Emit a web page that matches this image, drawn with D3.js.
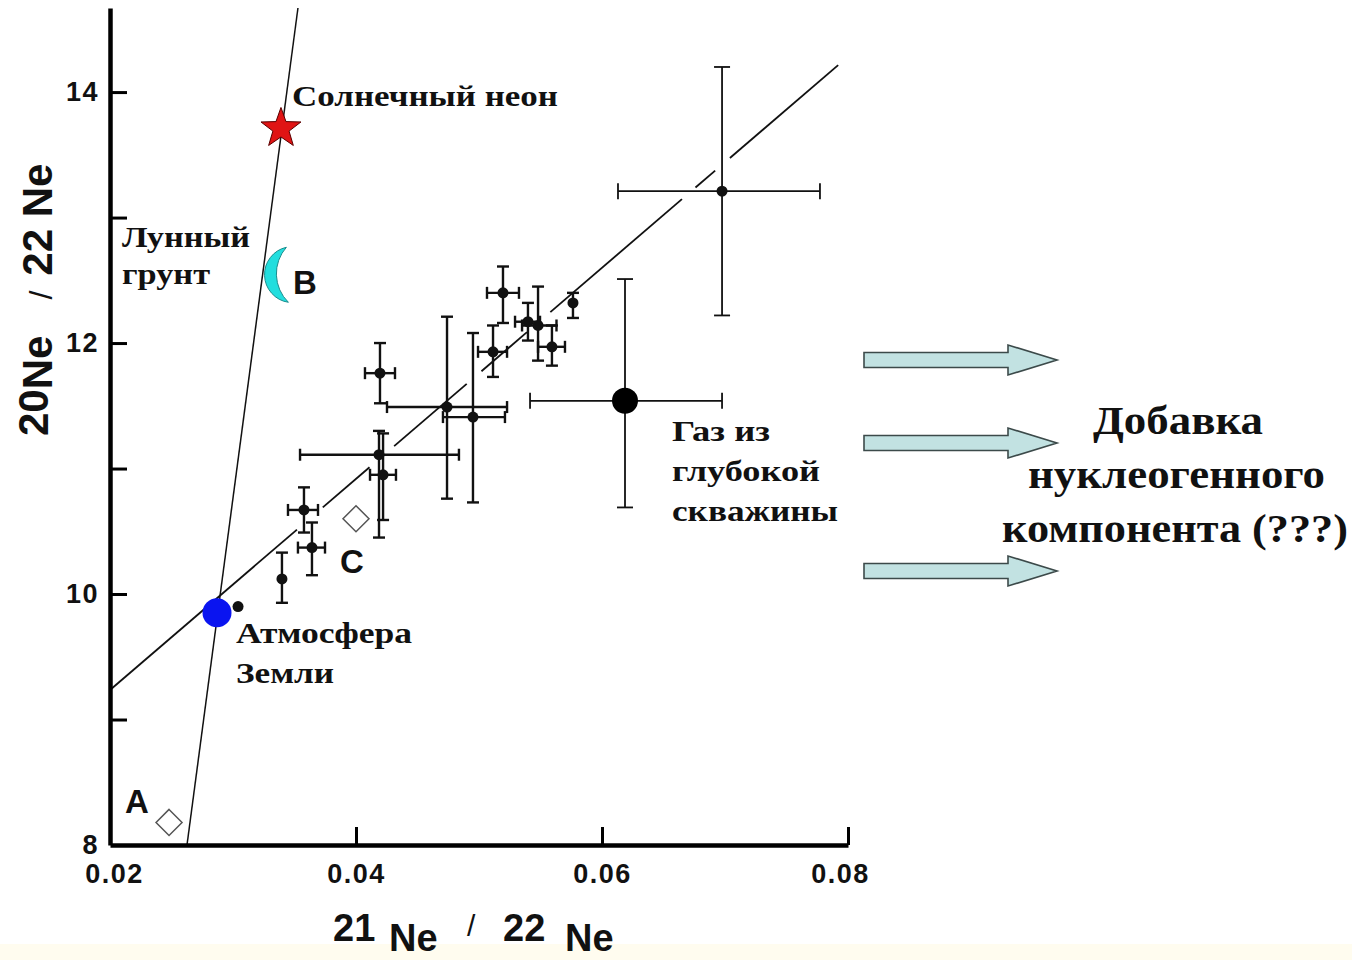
<!DOCTYPE html>
<html><head><meta charset="utf-8">
<script src="https://cdn.jsdelivr.net/npm/d3@7"></script>
<style>body{margin:0;background:#fff} svg{display:block}</style>
</head><body><svg id="c" width="1352" height="960"></svg>
<script>
// ---------- data ----------
const xDomain = [0.02, 0.08];
const yDomain = [8, 14.67];
const xTickValues = [0.02, 0.04, 0.06, 0.08];
const xTickLabels = ["0.02", "0.04", "0.06", "0.08"];
const yTickValues = [8, 9, 10, 11, 12, 13, 14];
const yTickLabels = ["8", "", "10", "", "12", "", "14"];

// samples (21Ne/22Ne, 20Ne/22Ne) with error ranges (NaN = none)
const sampleX   = [0.03398, 0.03577, 0.03642, 0.04195, 0.04187, 0.04220, 0.04740, 0.04951, 0.05114, 0.05195, 0.05398, 0.05480, 0.05593, 0.05764, 0.06976, 0.03041];
const sampleY   = [10.12, 10.67, 10.37, 11.76, 11.11, 10.95, 11.49, 11.41, 11.93, 12.40, 12.17, 12.14, 11.97, 12.32, 13.21, 9.90];
const sampleXLo = [NaN, 0.03447, 0.03528, 0.04073, 0.03545, 0.04114, 0.04252, 0.04707, 0.04992, 0.05065, 0.05293, 0.05350, 0.05480, NaN, 0.06130, NaN];
const sampleXHi = [NaN, 0.03691, 0.03748, 0.04317, 0.04837, 0.04325, 0.05228, 0.05211, 0.05228, 0.05325, 0.05496, 0.05630, 0.05699, NaN, 0.07772, NaN];
const sampleYLo = [9.93, 10.49, 10.15, 11.52, 10.45, 10.59, 10.76, 10.73, 11.73, 12.16, 12.02, 11.86, 11.82, 12.20, 12.22, NaN];
const sampleYHi = [10.33, 10.85, 10.57, 12.00, 11.30, 11.28, 12.21, 12.08, 12.14, 12.61, 12.32, 12.45, 12.14, 12.40, 14.20, NaN];

// deep well gas
const wellX = [0.06187], wellY = [11.54];
const wellXLo = [0.05415], wellXHi = [0.06976], wellYLo = [10.69], wellYHi = [12.51];

// reference components
const airX = 0.0287, airY = 9.85;
const solarX = 0.0339, solarY = 13.71;
const lunarX = 0.0332, lunarY = 12.54;
const diamondNames = ["A", "C"];
const diamondX = [0.0248, 0.0400];
const diamondY = [8.18, 10.60];

// lines
const solarLineX = [0.02626, 0.03528], solarLineY = [8, 14.67];
const fracLineX = [0.02, 0.0792], fracLineY = [9.235, 14.215];
const fracGaps = [[0.0352, 0.0373], [0.0411, 0.0431], [0.0490, 0.0502], [0.0539, 0.0558], [0.0665, 0.0676], [0.0692, 0.0704]];

// ---------- drawing ----------
const svg = d3.select("#c");
svg.append("rect").attr("x", 0).attr("y", 0).attr("width", 1352).attr("height", 960).attr("fill", "#fff");
svg.append("rect").attr("x", 0).attr("y", 944).attr("width", 1352).attr("height", 16).attr("fill", "#fffcef");

const x = d3.scaleLinear().domain(xDomain).range([110, 848]);
const y = d3.scaleLinear().domain(yDomain).range([845, 8]);

const SANS = "'Liberation Sans', Arial, sans-serif";
const SERIF = "'Liberation Serif', 'Times New Roman', serif";

// lines
const g = svg.append("g");
g.append("line")
  .attr("x1", x(solarLineX[0])).attr("y1", y(solarLineY[0]))
  .attr("x2", x(solarLineX[1])).attr("y2", y(solarLineY[1]))
  .attr("stroke", "#111").attr("stroke-width", 1.5);

const slope = (fracLineY[1] - fracLineY[0]) / (fracLineX[1] - fracLineX[0]);
const fy = xv => fracLineY[0] + slope * (xv - fracLineX[0]);
let segs = [], start = fracLineX[0];
fracGaps.forEach(([a, b]) => { segs.push([start, a]); start = b; });
segs.push([start, fracLineX[1]]);
g.selectAll(".frac").data(segs).join("line")
  .attr("x1", d => x(d[0])).attr("y1", d => y(fy(d[0])))
  .attr("x2", d => x(d[1])).attr("y2", d => y(fy(d[1])))
  .attr("stroke", "#111").attr("stroke-width", 1.8);

// error bars
function errorBars(xs, ys, xlo, xhi, ylo, yhi, cap, sw) {
  const eg = svg.append("g").attr("stroke", "#111").attr("stroke-width", sw).attr("fill", "none");
  xs.forEach((xv, i) => {
    if (!isNaN(xlo[i])) {
      eg.append("line").attr("x1", x(xlo[i])).attr("x2", x(xhi[i])).attr("y1", y(ys[i])).attr("y2", y(ys[i]));
      [xlo[i], xhi[i]].forEach(v => eg.append("line").attr("x1", x(v)).attr("x2", x(v)).attr("y1", y(ys[i]) - cap).attr("y2", y(ys[i]) + cap));
    }
    if (!isNaN(ylo[i])) {
      eg.append("line").attr("x1", x(xv)).attr("x2", x(xv)).attr("y1", y(ylo[i])).attr("y2", y(yhi[i]));
      [ylo[i], yhi[i]].forEach(v => eg.append("line").attr("x1", x(xv) - cap).attr("x2", x(xv) + cap).attr("y1", y(v)).attr("y2", y(v)));
    }
  });
}
errorBars(sampleX.slice(0, 14), sampleY.slice(0, 14), sampleXLo, sampleXHi, sampleYLo, sampleYHi, 6, 2.4);
errorBars([sampleX[14]], [sampleY[14]], [sampleXLo[14]], [sampleXHi[14]], [sampleYLo[14]], [sampleYHi[14]], 8, 1.8);
errorBars(wellX, wellY, wellXLo, wellXHi, wellYLo, wellYHi, 8, 1.8);

// sample points
svg.append("g").selectAll("circle").data(sampleX).join("circle")
  .attr("cx", d => x(d)).attr("cy", (d, i) => y(sampleY[i])).attr("r", 5.5).attr("fill", "#111");
svg.append("g").selectAll("circle").data(wellX).join("circle")
  .attr("cx", d => x(d)).attr("cy", (d, i) => y(wellY[i])).attr("r", 13).attr("fill", "#000");

// air
svg.append("circle").attr("cx", x(airX)).attr("cy", y(airY)).attr("r", 14.5).attr("fill", "#0a14f0");

// solar star
function starPath(cx, cy, R, r) {
  const pts = [];
  for (let k = 0; k < 10; k++) {
    const a = -Math.PI / 2 + k * Math.PI / 5, rr = k % 2 ? r : R;
    pts.push([cx + rr * Math.cos(a), cy + rr * Math.sin(a)]);
  }
  return "M" + pts.map(p => p.join(",")).join("L") + "Z";
}
svg.append("path").attr("d", starPath(x(solarX), y(solarY), 21, 8.5))
  .attr("fill", "#e01414").attr("stroke", "#5a0000").attr("stroke-width", 1);

// lunar crescent
const lx = x(lunarX), ly = y(lunarY);
svg.append("path")
  .attr("d", `M${lx + 14},${ly - 28} A28,28 0 0,0 ${lx + 16},${ly + 27} A40,40 0 0,1 ${lx + 14},${ly - 28} Z`)
  .attr("fill", "#22dede").attr("stroke", "#1a8c8c").attr("stroke-width", 1);

// diamonds
svg.append("g").selectAll("path").data(diamondX).join("path")
  .attr("d", (d, i) => { const cx = x(d), cy = y(diamondY[i]), s = 13; return `M${cx},${cy - s}L${cx + s},${cy}L${cx},${cy + s}L${cx - s},${cy}Z`; })
  .attr("fill", "#fff").attr("stroke", "#555").attr("stroke-width", 1.5);

// axes
const yAxis = d3.axisLeft(y).tickValues(yTickValues).tickSize(-17).tickSizeOuter(0).tickPadding(11)
  .tickFormat((d, i) => yTickLabels[i]);
const ya = svg.append("g").attr("transform", "translate(110,0)").call(yAxis);
const xAxis = d3.axisBottom(x).tickValues(xTickValues).tickSize(-18).tickSizeOuter(0).tickPadding(19)
  .tickFormat((d, i) => xTickLabels[i]);
const xa = svg.append("g").attr("transform", "translate(0,845)").call(xAxis);
[ya, xa].forEach(a => {
  a.select(".domain").attr("stroke", "#000").attr("stroke-width", 4.5);
  a.selectAll(".tick line").attr("stroke", "#000").attr("stroke-width", 3);
  a.selectAll(".tick text").attr("font-family", SANS).attr("font-weight", "bold").attr("font-size", 27).attr("fill", "#111");
});
xa.selectAll(".tick").filter(d => d === 0.02).select("line").remove();
ya.selectAll(".tick").filter(d => d === 8).select("line").remove();
xa.selectAll(".tick text").attr("letter-spacing", 1.5);
ya.selectAll(".tick text").attr("letter-spacing", 1.5);
xa.selectAll(".tick").filter(d => d === 0.02).select("text").attr("dx", 4);
xa.selectAll(".tick").filter(d => d === 0.08).select("text").attr("dx", -8);

// axis titles
const yt = svg.append("text").attr("transform", "translate(52,436) rotate(-90)")
  .attr("text-anchor", "start").attr("font-family", SANS).attr("font-weight", "bold").attr("font-size", 42).attr("fill", "#111");
yt.append("tspan").text("20").attr("dy", -4);
yt.append("tspan").text("Ne").attr("dy", 4);
yt.append("tspan").text("/").attr("dx", 36).attr("font-weight", "normal").attr("font-size", 32);
yt.append("tspan").text("22").attr("dx", 15);
yt.append("tspan").text(" Ne");

const xt = svg.append("g").attr("font-family", SANS).attr("font-weight", "bold").attr("fill", "#111");
xt.append("text").attr("x", 333).attr("y", 941).attr("font-size", 38).text("21");
xt.append("text").attr("x", 389).attr("y", 951).attr("font-size", 38).text("Ne");
xt.append("text").attr("x", 467).attr("y", 936).attr("font-size", 30).attr("font-weight", "normal").text("/");
xt.append("text").attr("x", 503).attr("y", 941).attr("font-size", 38).text("22");
xt.append("text").attr("x", 565).attr("y", 951).attr("font-size", 38).text("Ne");

// letter labels
const letters = [["B", 293, 294], ["C", 340, 573], ["A", 125, 813]];
svg.append("g").selectAll("text").data(letters).join("text")
  .attr("x", d => d[1]).attr("y", d => d[2]).text(d => d[0])
  .attr("font-family", SANS).attr("font-weight", "bold").attr("font-size", 33).attr("fill", "#111");

// serif annotations [text, x, baseline, width, size]
const notes = [
  ["Солнечный неон", 292, 106, 266, 30],
  ["Лунный", 122, 247, 128, 30],
  ["грунт", 122, 284, 88, 30],
  ["Атмосфера", 236, 643, 176, 30],
  ["Земли", 236, 683, 98, 30],
  ["Газ из", 672, 441, 98, 30],
  ["глубокой", 672, 481, 148, 30],
  ["скважины", 672, 521, 166, 30],
  ["Добавка", 1093, 434, 170, 40],
  ["нуклеогенного", 1028, 488, 297, 40],
  ["компонента (???)", 1002, 542, 346, 40]
];
svg.append("g").selectAll("text").data(notes).join("text")
  .attr("x", d => d[1]).attr("y", d => d[2]).text(d => d[0])
  .attr("textLength", d => d[3]).attr("lengthAdjust", "spacingAndGlyphs")
  .attr("font-family", SERIF).attr("font-weight", "bold").attr("font-size", d => d[4]).attr("fill", "#111");

// arrows
const arrowYs = [360, 443, 571];
svg.append("g").selectAll("path").data(arrowYs).join("path")
  .attr("d", cy => `M864,${cy - 7.5}H1008V${cy - 15}L1057,${cy}L1008,${cy + 15}V${cy + 7.5}H864Z`)
  .attr("fill", "#c2e2e2").attr("stroke", "#3c4a4a").attr("stroke-width", 1.6).attr("stroke-linejoin", "miter");
</script></body></html>
